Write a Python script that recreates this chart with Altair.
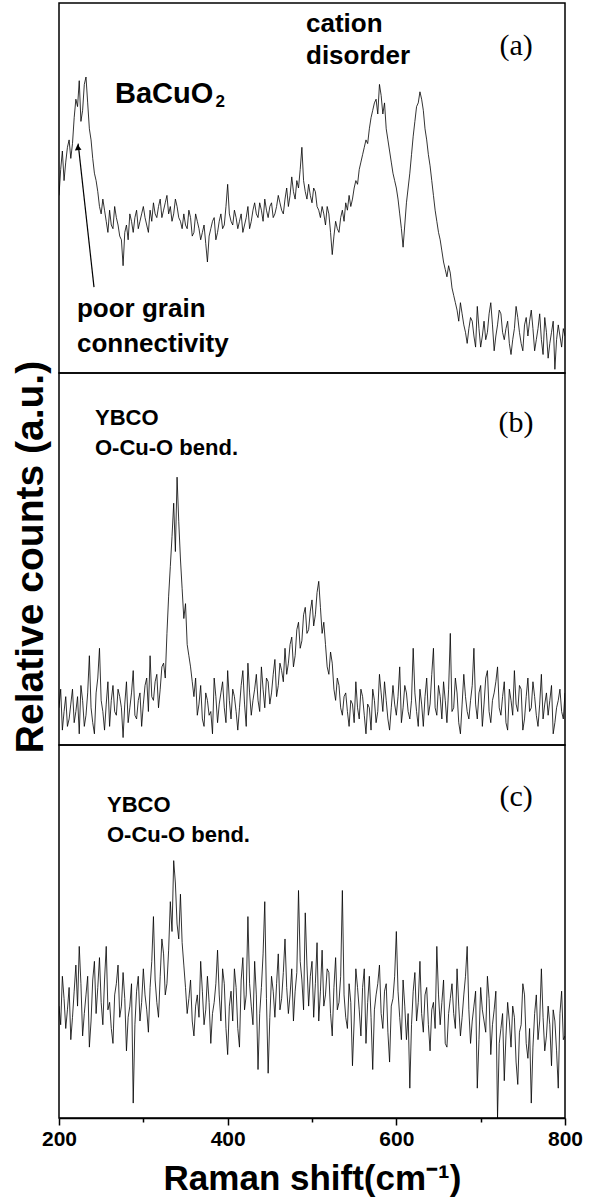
import altair as alt
import pandas as pd

# Raman shift grid (cm^-1)
shift = list(range(200, 801, 2))

# (a) relative counts (0 = panel bottom, 100 = panel top)
counts_a = [48, 55, 60, 52, 57, 61, 63, 58, 62, 69, 74, 72, 79, 68, 71, 78, 80, 73, 66, 63,
            58, 54, 52, 49, 45, 43, 47, 44, 41, 38, 44, 40, 39, 45, 42, 40, 37, 36, 29, 38,
            40, 36, 43, 41, 38, 42, 44, 39, 41, 43, 45, 42, 40, 38, 44, 41, 46, 43, 42, 45,
            47, 42, 44, 46, 48, 43, 45, 41, 43, 47, 45, 42, 41, 39, 43, 40, 39, 44, 42, 37,
            38, 43, 41, 39, 36, 38, 40, 35, 30, 37, 39, 41, 42, 36, 38, 41, 43, 39, 40, 45,
            51, 43, 41, 40, 44, 42, 39, 41, 43, 38, 40, 42, 45, 39, 41, 44, 46, 43, 42, 46,
            44, 41, 47, 44, 42, 45, 46, 42, 43, 45, 48, 46, 44, 43, 47, 50, 45, 48, 53, 49,
            47, 52, 50, 55, 61, 52, 49, 47, 51, 48, 46, 50, 49, 45, 44, 42, 45, 43, 40, 45,
            43, 38, 32, 37, 41, 39, 38, 42, 44, 41, 46, 44, 48, 45, 47, 50, 52, 51, 55, 57,
            59, 61, 63, 62, 66, 69, 71, 73, 74, 70, 78, 75, 70, 73, 66, 63, 60, 57, 54, 52,
            50, 47, 43, 39, 34, 40, 46, 50, 54, 59, 64, 68, 72, 73, 76, 74, 71, 66, 63, 59,
            56, 52, 48, 44, 41, 38, 36, 33, 30, 28, 26, 29, 27, 23, 21, 19, 17, 14, 19, 16,
            13, 11, 8, 12, 15, 14, 10, 7, 18, 12, 7, 10, 14, 9, 11, 16, 19, 13, 6, 10,
            13, 17, 16, 11, 9, 12, 14, 8, 5, 9, 12, 18, 15, 11, 8, 6, 13, 15, 10, 14,
            17, 12, 6, 9, 12, 16, 9, 5, 15, 11, 4, 8, 11, 14, 1, 9, 13, 10, 7, 12,
            10]

# (b)
counts_b = [10, 15, 4, 9, 13, 5, 7, 11, 15, 6, 9, 13, 3, 16, 12, 5, 8, 14, 24, 10,
            6, 3, 14, 18, 26, 12, 9, 4, 11, 17, 5, 12, 16, 9, 8, 15, 13, 10, 2, 11,
            17, 6, 10, 14, 20, 8, 7, 12, 14, 5, 11, 16, 18, 9, 24, 13, 12, 17, 19, 10,
            15, 21, 22, 18, 30, 40, 48, 56, 65, 52, 72, 60, 50, 42, 34, 38, 27, 24, 21, 17,
            13, 18, 8, 11, 16, 7, 5, 14, 12, 8, 9, 3, 18, 13, 6, 11, 14, 17, 10, 6,
            20, 12, 7, 15, 13, 9, 4, 10, 16, 20, 11, 5, 22, 14, 8, 12, 15, 19, 12, 9,
            21, 15, 10, 18, 17, 11, 14, 19, 23, 13, 16, 22, 20, 17, 26, 19, 22, 27, 29, 21,
            24, 31, 33, 26, 28, 35, 37, 30, 31, 36, 39, 32, 35, 41, 44, 37, 30, 33, 27, 21,
            19, 25, 22, 15, 12, 18, 16, 10, 8, 13, 14, 9, 5, 12, 11, 6, 17, 10, 7, 15,
            13, 8, 3, 11, 10, 4, 15, 12, 6, 9, 19, 14, 9, 17, 12, 7, 4, 10, 16, 11,
            8, 13, 21, 6, 10, 16, 14, 9, 7, 12, 26, 14, 9, 5, 15, 11, 5, 13, 18, 8,
            11, 19, 26, 10, 8, 16, 13, 7, 17, 12, 6, 15, 30, 9, 10, 18, 14, 6, 3, 11,
            19, 13, 9, 7, 12, 16, 26, 11, 7, 14, 16, 5, 11, 18, 20, 9, 6, 12, 14, 17,
            21, 10, 8, 13, 17, 6, 4, 15, 12, 8, 20, 11, 9, 16, 15, 4, 7, 13, 18, 9,
            10, 17, 13, 8, 5, 11, 19, 7, 11, 14, 8, 12, 16, 3, 6, 10, 12, 15, 9, 7,
            14]

# (c)
counts_c = [30, 25, 38, 32, 24, 29, 35, 21, 27, 34, 41, 30, 46, 36, 22, 28, 33, 38, 19, 26,
            37, 42, 28, 35, 43, 31, 25, 37, 46, 29, 31, 24, 20, 33, 36, 41, 27, 30, 39, 32,
            18, 27, 30, 36, 4, 25, 34, 38, 26, 31, 40, 33, 29, 23, 35, 42, 54, 37, 31, 27,
            38, 48, 44, 33, 36, 45, 58, 50, 69, 63, 52, 48, 60, 47, 41, 35, 28, 32, 37, 26,
            22, 30, 33, 27, 42, 34, 25, 29, 38, 31, 20, 28, 31, 36, 45, 33, 26, 40, 36, 24,
            17, 30, 34, 26, 40, 35, 24, 19, 37, 43, 29, 33, 54, 36, 30, 25, 42, 33, 13, 28,
            35, 44, 58, 32, 12, 27, 38, 34, 27, 36, 44, 29, 32, 39, 48, 35, 28, 33, 40, 26,
            34, 39, 61, 42, 37, 29, 55, 41, 30, 38, 42, 27, 36, 47, 26, 34, 45, 30, 33, 40,
            39, 28, 22, 35, 43, 29, 31, 38, 61, 33, 27, 24, 36, 31, 14, 26, 40, 35, 29, 22,
            35, 40, 20, 31, 38, 27, 13, 29, 33, 36, 41, 28, 24, 34, 36, 23, 15, 30, 32, 38,
            50, 34, 27, 21, 37, 30, 21, 28, 8, 25, 34, 39, 26, 31, 42, 28, 23, 33, 35, 25,
            18, 29, 31, 24, 46, 33, 25, 31, 37, 20, 19, 28, 32, 36, 28, 24, 40, 30, 22, 27,
            33, 38, 46, 29, 20, 26, 30, 34, 8, 21, 35, 29, 26, 23, 38, 32, 17, 25, 29, 34,
            0, 20, 24, 28, 10, 22, 31, 26, 19, 30, 27, 15, 9, 23, 25, 36, 33, 20, 16, 24,
            4, 19, 28, 33, 21, 26, 40, 27, 18, 22, 30, 25, 14, 29, 26, 18, 8, 28, 34, 21,
            22]

x_ticks = [200, 300, 400, 500, 600, 700, 800]

FONT = "Liberation Sans"
SERIF = "Liberation Serif"
W = 506
XS = alt.Scale(domain=[200, 800], nice=False, zero=False)
YS = alt.Scale(domain=[0, 100], nice=False, zero=False)


def spectrum(vals, h, bottom):
    df = pd.DataFrame({"shift": shift, "counts": vals})
    if bottom:
        xax = alt.Axis(
            values=x_ticks,
            labelExpr="datum.value % 200 == 0 ? datum.label : ''",
            tickSize={"condition": {"test": "datum.value % 200 == 0", "value": 7}, "value": 4},
            tickColor="black", tickWidth=1.5, domainColor="black", domainWidth=1.5,
            grid=False, labelFont=FONT, labelFontWeight="bold", labelFontSize=21,
            labelColor="black", labelPadding=3, labelFlush=False,
            title="Raman shift(cm\u207b\u00b9)", titleFont=FONT, titleFontWeight="bold",
            titleFontSize=35, titleColor="black", titlePadding=12,
        )
    else:
        xax = None
    return alt.Chart(df).mark_line(color="black", strokeWidth=0.8, clip=True).encode(
        x=alt.X("shift:Q", scale=XS, axis=xax),
        y=alt.Y("counts:Q", scale=YS, axis=None),
    ).properties(width=W, height=h)


def texts(df, size, font=FONT, weight="bold", align="left", baseline="alphabetic"):
    return alt.Chart(df).mark_text(
        font=font, fontSize=size, fontWeight=weight, align=align, baseline=baseline, color="black"
    ).encode(
        x=alt.X("x:Q", scale=XS), y=alt.Y("y:Q", scale=YS), text="t:N"
    )


# ---- panel (a)
ha = 370
lab_a = pd.DataFrame({"x": [492.9, 492.9, 221.3, 221.3],
                      "y": [92.2, 83.5, 15.1, 5.7],
                      "t": ["cation", "disorder", "poor grain", "connectivity"]})
ba = pd.DataFrame({"x": [266.4], "y": [73.0], "t": ["BaCuO"]})
sub = pd.DataFrame({"x": [385.5], "y": [71.8], "t": ["2"]})
pa = pd.DataFrame({"x": [742.0], "y": [88.4], "t": ["(a)"]})
arrow = pd.DataFrame({"x": [241.5], "y": [23.2], "x2": [222.7], "y2": [62.0]})
head = pd.DataFrame({"x": [222.4], "y": [61.0]})

panel_a = alt.layer(
    spectrum(counts_a, ha, False),
    texts(lab_a, 26),
    texts(ba, 29),
    texts(sub, 17),
    texts(pa, 30, font=SERIF, weight="normal", align="center", baseline="middle"),
    alt.Chart(arrow).mark_rule(color="black", strokeWidth=1.2).encode(
        x=alt.X("x:Q", scale=XS), y=alt.Y("y:Q", scale=YS), x2="x2:Q", y2="y2:Q"),
    alt.Chart(head).mark_point(shape="triangle-up", filled=True, color="black", opacity=1,
                               size=45, angle=354).encode(
        x=alt.X("x:Q", scale=XS), y=alt.Y("y:Q", scale=YS)),
).properties(width=W, height=ha)

# ---- panel (b)
hb = 372
lab_b = pd.DataFrame({"x": [242.7, 242.7], "y": [86.0, 78.0], "t": ["YBCO", "O-Cu-O bend."]})
pb = pd.DataFrame({"x": [742.0], "y": [86.6], "t": ["(b)"]})
ytitle = pd.DataFrame({"t": ["Relative counts (a.u.)"]})

panel_b = alt.layer(
    spectrum(counts_b, hb, False),
    texts(lab_b, 22),
    texts(pb, 30, font=SERIF, weight="normal", align="center", baseline="middle"),
    alt.Chart(ytitle).mark_text(font=FONT, fontSize=39, fontWeight="bold", angle=270,
                                align="center", baseline="alphabetic", color="black").encode(
        x=alt.value(-16), y=alt.value(184), text="t:N"),
).properties(width=W, height=hb)

# ---- panel (c)
hc = 373
lab_c = pd.DataFrame({"x": [256.9, 256.9], "y": [82.0, 74.0], "t": ["YBCO", "O-Cu-O bend."]})
pc = pd.DataFrame({"x": [742.0], "y": [86.0], "t": ["(c)"]})

panel_c = alt.layer(
    spectrum(counts_c, hc, True),
    texts(lab_c, 22),
    texts(pc, 30, font=SERIF, weight="normal", align="center", baseline="middle"),
).properties(width=W, height=hc)

chart = alt.vconcat(panel_a, panel_b, panel_c, spacing=0, bounds="flush").properties(
    padding={"left": 11, "top": 2, "right": 5, "bottom": 0}
).configure_view(stroke="black", strokeWidth=1.5)

chart.save("out.html", embed_options={"renderer": "svg", "actions": False})
